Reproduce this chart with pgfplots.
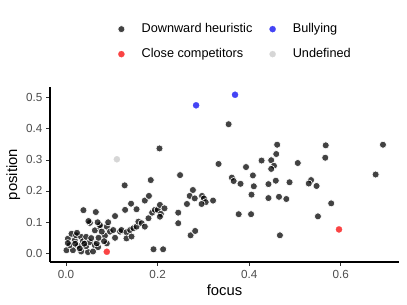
\documentclass[border=0pt]{standalone}
\usepackage{pgfplots}
\pgfplotsset{compat=1.18}
\usepackage{fontspec}
\setmainfont{Liberation Sans}
\definecolor{tickgrey}{HTML}{4D4D4D}
\definecolor{tickline}{HTML}{333333}
\definecolor{bullyblue}{RGB}{68,68,245}
\definecolor{closered}{RGB}{250,68,68}
\definecolor{undefgrey}{RGB}{214,214,214}
\begin{document}
\begin{tikzpicture}
\begin{axis}[
  scale only axis, width=349bp, height=175bp,
  xmin=-0.035, xmax=0.727, ymin=-0.029, ymax=0.535,
  axis x line*=bottom, axis y line*=left,
  axis line style={-, line width=1.1bp, black},
  xtick={0,0.2,0.4,0.6}, ytick={0,0.1,0.2,0.3,0.4,0.5},
  tick align=outside, major tick length=3.7bp,
  tick style={tickline, line width=0.8bp},
  /pgf/number format/.cd, fixed, fixed zerofill, precision=1, assume math mode=true,
  /pgfplots/.cd,
  ticklabel style={font=\fontsize{11.7bp}{13bp}\selectfont, text=tickgrey},
  xticklabel style={yshift=-1bp},
  yticklabel style={xshift=-0.5bp},
  xlabel={focus}, ylabel={position},
  label style={font=\fontsize{14.8bp}{17bp}\selectfont},
  xlabel style={yshift=1bp},
  ylabel style={yshift=-1bp},
  legend columns=2,
  legend cell align=left,
  legend style={draw=none, fill=none, inner sep=0bp,
    at={(axis description cs:0.1748,1.366)}, anchor=north west,
    font=\fontsize{12.7bp}{15bp}\selectfont,
    nodes={inner xsep=0bp, inner ysep=0bp, text height=9bp, text depth=3bp},
    row sep=13bp,
    /tikz/every even column/.append style={column sep=10bp}},
  legend image code/.code={\path (-10bp,0bp) (20bp,0bp); \draw[#1] plot coordinates {(0bp,0bp)};},
]
% Downward heuristic
\addplot[only marks, mark=*, mark size=3.5bp, color=white,
  mark options={fill=black, fill opacity=0.74, draw=white, draw opacity=1, line width=0.6bp}]
coordinates {
(0.001,0.009) (0.015,0.009) (0.033,0.005) (0.048,0.003) (0.059,0.005)
(0.004,0.046) (0.008,0.025) (0.012,0.062) (0.019,0.041) (0.022,0.057)
(0.026,0.023) (0.033,0.052) (0.037,0.038) (0.044,0.052) (0.044,0.022)
(0.052,0.035) (0.055,0.048) (0.063,0.025) (0.070,0.019) (0.063,0.073)
(0.074,0.084) (0.052,0.097) (0.020,0.030) (0.030,0.015) (0.004,0.032)
(0.024,0.065) (0.040,0.030) (0.067,0.031) (0.071,0.049) (0.085,0.056)
(0.089,0.031) (0.083,0.038) (0.078,0.069) (0.089,0.085) (0.074,0.090)
(0.069,0.099) (0.092,0.099) (0.096,0.069) (0.103,0.074) (0.107,0.049)
(0.107,0.119) (0.118,0.069) (0.121,0.074) (0.132,0.067) (0.132,0.047)
(0.140,0.074) (0.143,0.053) (0.147,0.080) (0.154,0.085) (0.158,0.101)
(0.165,0.096) (0.172,0.085) (0.038,0.138) (0.065,0.132) (0.049,0.103)
(0.129,0.139) (0.154,0.141) (0.128,0.218) (0.142,0.159) (0.172,0.169)
(0.181,0.184) (0.185,0.235) (0.180,0.112) (0.188,0.130) (0.194,0.139)
(0.200,0.139) (0.205,0.155) (0.215,0.144) (0.207,0.126) (0.205,0.117)
(0.191,0.012) (0.212,0.012) (0.204,0.337) (0.245,0.130) (0.245,0.096)
(0.249,0.251) (0.272,0.057) (0.282,0.071) (0.277,0.203) (0.270,0.184)
(0.281,0.176) (0.264,0.158) (0.297,0.184) (0.301,0.176) (0.305,0.164)
(0.296,0.158) (0.321,0.169) (0.333,0.287) (0.355,0.415) (0.461,0.349)
(0.567,0.347) (0.692,0.349) (0.566,0.307) (0.459,0.319) (0.427,0.298)
(0.448,0.299) (0.506,0.290) (0.454,0.281) (0.448,0.271) (0.393,0.277)
(0.676,0.253) (0.408,0.250) (0.362,0.243) (0.366,0.232) (0.381,0.223)
(0.410,0.215) (0.442,0.222) (0.458,0.233) (0.488,0.228) (0.535,0.235)
(0.530,0.224) (0.547,0.216) (0.405,0.188) (0.442,0.177) (0.465,0.181)
(0.481,0.174) (0.579,0.160) (0.377,0.125) (0.404,0.125) (0.550,0.118)
(0.467,0.057)
};
\addlegendentry{Downward heuristic}
% Bullying
\addplot[only marks, mark=*, mark size=3.1bp, color=bullyblue,
  mark options={fill=bullyblue, draw=bullyblue, line width=0.2bp}]
coordinates {(0.284,0.476) (0.369,0.510)};
\addlegendentry{Bullying}
% Close competitors
\addplot[only marks, mark=*, mark size=3.1bp, color=closered,
  mark options={fill=closered, draw=closered, line width=0.2bp}]
coordinates {(0.089,0.004) (0.596,0.076)};
\addlegendentry{Close competitors}
% Undefined
\addplot[only marks, mark=*, mark size=3.1bp, color=undefgrey,
  mark options={fill=undefgrey, draw=undefgrey, line width=0.2bp}]
coordinates {(0.111,0.302)};
\addlegendentry{Undefined}
\end{axis}
\path (current axis.south west) ++(-50bp,-43bp) coordinate (bbA);
\path (current axis.north east) ++(8bp,87bp) coordinate (bbB);
\path (bbA) rectangle (bbB);
\end{tikzpicture}
\end{document}
